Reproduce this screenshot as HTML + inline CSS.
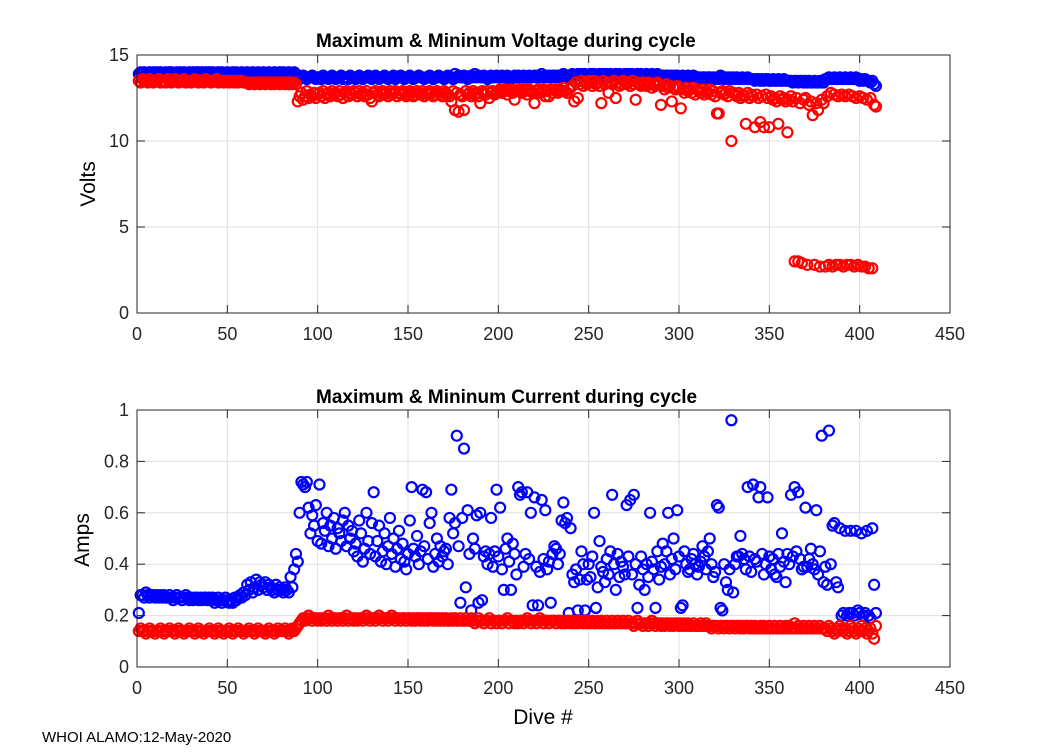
<!DOCTYPE html>
<html><head><meta charset="utf-8"><style>
body{margin:0;background:#fff;width:1050px;height:750px;overflow:hidden;font-family:"Liberation Sans",Arial,sans-serif}
svg text{font-family:"Liberation Sans",Arial,sans-serif}
</style></head><body>
<svg id="fig" width="1050" height="750" xmlns="http://www.w3.org/2000/svg">
<rect width="1050" height="750" fill="#fff"/>
<g id="top"></g>
<g id="bot"></g>
<text x="316" y="47" font-size="19" font-weight="bold">Maximum &amp; Mininum Voltage during cycle</text>
<text x="316" y="403" font-size="19" font-weight="bold">Maximum &amp; Mininum Current during cycle</text>
<text transform="translate(95,184) rotate(-90)" text-anchor="middle" font-size="21">Volts</text>
<text transform="translate(89,540) rotate(-90)" text-anchor="middle" font-size="21">Amps</text>
<text x="543" y="724" text-anchor="middle" font-size="21">Dive #</text>
<text x="42" y="742" font-size="15">WHOI ALAMO:12-May-2020</text>
</svg>
<script>
const xTicks=[0,50,100,150,200,250,300,350,400,450];
const vTicks=[0,5,10,15];
const aTicks=[0,0.2,0.4,0.6,0.8,1];
const aTickLabels=["0","0.2","0.4","0.6","0.8","1"];
const vMax=[
13.9,14.0,13.9,14.0,13.9,13.9,14.0,13.9,14.0,13.9,
14.0,13.9,14.0,13.9,13.9,14.0,13.9,14.0,14.0,13.9,
13.9,14.0,13.9,14.0,13.9,14.0,13.9,13.9,14.0,13.9,
14.0,13.9,14.0,14.0,13.9,14.0,13.9,14.0,13.9,14.0,
13.9,14.0,13.9,13.9,14.0,13.9,14.0,13.9,13.9,14.0,
13.9,13.9,14.0,13.9,14.0,13.9,13.9,14.0,13.9,13.9,
14.0,13.9,13.9,14.0,13.9,13.9,14.0,13.9,13.9,14.0,
13.9,13.9,14.0,13.9,13.9,14.0,13.9,13.9,14.0,13.9,
14.0,13.9,13.9,14.0,13.9,13.9,14.0,13.9,13.7,13.6,
13.7,13.8,13.7,13.6,13.7,13.7,13.8,13.7,13.6,13.7,
13.7,13.6,13.8,13.7,13.7,13.6,13.7,13.8,13.7,13.6,
13.7,13.7,13.8,13.6,13.7,13.7,13.6,13.8,13.7,13.7,
13.6,13.7,13.8,13.7,13.6,13.7,13.7,13.8,13.7,13.6,
13.7,13.8,13.7,13.6,13.7,13.7,13.8,13.7,13.6,13.7,
13.7,13.8,13.6,13.7,13.7,13.8,13.7,13.6,13.7,13.7,
13.8,13.7,13.6,13.7,13.7,13.8,13.7,13.7,13.6,13.7,
13.7,13.8,13.7,13.6,13.7,13.7,13.8,13.7,13.7,13.6,
13.7,13.8,13.7,13.7,13.6,13.9,13.7,13.8,13.7,13.7,
13.8,13.7,13.6,13.7,13.8,13.7,13.9,13.7,13.8,13.7,
13.7,13.8,13.7,13.6,13.7,13.8,13.7,13.7,13.8,13.7,
13.7,13.8,13.7,13.7,13.8,13.7,13.6,13.7,13.8,13.7,
13.8,13.7,13.7,13.8,13.7,13.7,13.8,13.7,13.7,13.8,
13.7,13.8,13.7,13.9,13.7,13.8,13.7,13.8,13.7,13.8,
13.8,13.7,13.8,13.7,13.8,13.9,13.8,13.7,13.8,13.8,
13.9,13.8,13.8,13.9,13.8,13.9,13.8,13.9,13.8,13.8,
13.9,13.8,13.9,13.8,13.8,13.9,13.8,13.9,13.8,13.9,
13.8,13.9,13.8,13.8,13.9,13.8,13.9,13.8,13.8,13.9,
13.8,13.9,13.8,13.9,13.8,13.8,13.9,13.8,13.9,13.8,
13.8,13.9,13.8,13.8,13.9,13.8,13.8,13.9,13.8,13.8,
13.8,13.7,13.8,13.8,13.7,13.8,13.7,13.8,13.8,13.7,
13.7,13.8,13.7,13.7,13.8,13.7,13.7,13.8,13.7,13.7,
13.7,13.6,13.7,13.7,13.6,13.7,13.7,13.6,13.7,13.6,
13.7,13.6,13.8,13.7,13.6,13.7,13.6,13.7,13.6,13.7,
13.6,13.7,13.6,13.6,13.7,13.6,13.6,13.7,13.6,13.6,
13.6,13.5,13.6,13.6,13.5,13.6,13.5,13.6,13.6,13.5,
13.5,13.6,13.5,13.5,13.6,13.5,13.5,13.6,13.5,13.5,
13.5,13.5,13.4,13.5,13.5,13.4,13.5,13.5,13.4,13.5,
13.4,13.5,13.4,13.4,13.5,13.4,13.4,13.5,13.4,13.4,
13.6,13.6,13.7,13.6,13.6,13.7,13.6,13.6,13.7,13.6,
13.6,13.7,13.6,13.6,13.7,13.6,13.6,13.7,13.6,13.5,
13.6,13.5,13.6,13.5,13.5,13.4,13.5,13.3,13.2];
const vMin=[
13.5,13.4,13.6,13.5,13.5,13.4,13.6,13.5,13.4,13.5,
13.5,13.6,13.4,13.5,13.5,13.4,13.6,13.5,13.4,13.5,
13.6,13.5,13.4,13.5,13.5,13.6,13.4,13.5,13.5,13.4,
13.5,13.6,13.5,13.4,13.5,13.5,13.4,13.6,13.5,13.5,
13.4,13.5,13.5,13.6,13.4,13.5,13.5,13.4,13.5,13.5,
13.4,13.5,13.5,13.4,13.5,13.4,13.5,13.5,13.4,13.4,
13.4,13.3,13.4,13.4,13.3,13.4,13.4,13.3,13.4,13.4,
13.3,13.4,13.4,13.3,13.4,13.3,13.4,13.4,13.3,13.4,
13.4,13.3,13.4,13.3,13.4,13.3,13.4,13.3,12.3,12.6,
12.8,12.4,12.6,12.9,12.5,12.7,12.6,12.8,12.5,12.7,
12.8,12.6,12.9,12.5,12.7,12.8,12.6,12.9,12.7,12.8,
12.6,12.9,12.7,12.5,12.8,12.9,12.6,12.8,12.7,12.9,
12.8,12.6,12.9,12.7,12.8,12.6,12.9,12.7,12.5,12.3,
12.8,12.9,12.7,12.6,12.8,12.9,12.7,12.8,12.6,12.9,
12.7,12.8,12.9,12.6,12.8,12.7,12.9,12.8,12.6,12.7,
12.9,12.8,12.6,12.7,12.9,12.8,12.7,12.9,12.6,12.8,
12.7,12.9,12.8,12.6,12.7,12.9,12.8,12.7,12.6,12.9,
12.8,12.7,12.6,12.3,12.9,11.8,12.8,11.7,12.7,12.6,
11.8,12.9,12.7,12.8,12.6,12.9,12.7,12.8,12.6,12.2,
12.9,12.8,12.7,12.9,12.5,12.8,12.9,12.7,12.8,12.9,
13.0,12.8,12.9,13.0,12.7,12.9,13.0,12.8,12.4,12.9,
13.0,12.9,12.8,13.0,12.9,12.7,13.0,12.9,12.8,12.2,
12.9,13.0,12.8,12.9,13.0,12.6,12.9,12.6,13.0,12.8,
13.0,12.9,12.8,13.0,12.9,13.1,12.9,12.8,13.0,13.1,
13.2,12.3,13.4,12.5,13.3,13.5,13.2,13.4,13.3,13.5,
13.4,13.2,13.5,13.3,13.4,13.2,12.2,13.5,13.3,13.4,
12.8,13.4,13.3,13.5,12.5,13.4,13.2,13.3,13.5,13.4,
13.3,13.4,13.2,13.5,13.3,12.4,13.4,13.3,13.2,13.4,
13.3,13.2,13.4,13.3,13.1,13.3,13.2,13.4,13.3,12.1,
13.2,13.0,13.3,13.1,13.2,12.3,13.1,13.0,13.2,13.1,
11.9,13.0,12.8,13.1,12.9,13.0,12.8,13.1,12.7,13.0,
12.9,12.8,13.0,12.7,12.9,12.8,13.0,12.7,12.9,12.6,
11.6,11.6,12.8,12.9,12.7,12.8,12.6,12.9,10.0,12.8,
12.7,12.6,12.8,12.5,12.7,12.6,11.0,12.8,12.5,12.7,
12.6,10.8,12.7,12.5,11.1,12.6,10.8,12.7,12.5,10.8,
12.6,12.4,12.5,12.3,11.0,12.6,12.4,12.5,12.3,10.5,
12.4,12.6,12.3,3.0,12.5,3.0,12.2,2.9,12.4,12.5,
2.8,12.1,12.3,11.5,2.8,12.2,11.8,2.7,12.4,12.2,
2.7,12.6,2.8,12.8,2.7,12.7,2.8,12.6,2.8,12.7,
2.7,12.6,2.8,12.7,2.8,12.6,2.7,12.5,2.8,12.6,
2.7,12.5,2.7,12.4,2.6,12.5,2.6,12.1,12.0];
const aMax=[
.21,.28,.28,.27,.29,.28,.27,.28,.28,.27,
.28,.27,.28,.27,.28,.27,.27,.28,.27,.26,
.27,.28,.27,.27,.26,.27,.28,.27,.26,.27,
.26,.27,.27,.26,.27,.26,.27,.27,.26,.27,
.26,.27,.25,.26,.27,.26,.25,.26,.27,.26,
.25,.26,.25,.27,.26,.27,.28,.27,.29,.28,
.32,.30,.33,.29,.31,.34,.30,.33,.32,.31,
.33,.30,.32,.31,.30,.29,.32,.30,.31,.30,
.29,.31,.30,.29,.35,.31,.38,.44,.41,.60,
.72,.71,.70,.72,.62,.52,.59,.55,.63,.49,
.71,.48,.56,.53,.60,.47,.55,.50,.58,.46,
.54,.52,.49,.57,.60,.47,.55,.50,.53,.45,
.48,.43,.57,.52,.41,.46,.60,.49,.44,.56,
.68,.43,.49,.55,.41,.45,.52,.40,.47,.58,
.44,.50,.39,.46,.53,.42,.48,.41,.38,.44,
.57,.70,.46,.43,.51,.40,.45,.69,.47,.68,
.42,.56,.60,.39,.44,.50,.41,.47,.43,.45,
.46,.40,.58,.69,.52,.56,.90,.47,.25,.58,
.85,.31,.61,.44,.22,.50,.46,.59,.25,.60,
.26,.43,.45,.40,.44,.58,.39,.45,.69,.43,
.62,.38,.30,.46,.50,.41,.30,.48,.44,.36,
.70,.67,.68,.39,.44,.68,.42,.60,.24,.66,
.39,.24,.37,.65,.42,.61,.38,.41,.25,.44,
.47,.46,.40,.44,.57,.64,.56,.58,.21,.54,
.36,.33,.38,.22,.34,.45,.40,.22,.34,.40,
.35,.43,.60,.23,.31,.49,.39,.37,.33,.42,
.36,.45,.67,.40,.30,.44,.35,.41,.39,.36,
.63,.43,.65,.36,.67,.40,.23,.32,.43,.38,
.30,.40,.35,.60,.41,.38,.23,.45,.34,.39,
.48,.40,.45,.60,.36,.42,.50,.38,.61,.43,
.23,.24,.45,.40,.37,.38,.42,.44,.40,.36,
.39,.41,.47,.43,.38,.45,.50,.40,.35,.37,
.63,.62,.23,.22,.40,.33,.30,.38,.96,.29,
.40,.43,.43,.51,.44,.42,.38,.70,.43,.37,
.71,.42,.41,.66,.70,.44,.36,.40,.66,.43,
.38,.42,.36,.35,.44,.39,.52,.41,.33,.44,
.40,.67,.43,.70,.45,.68,.42,.38,.39,.62,
.39,.42,.46,.40,.38,.61,.36,.45,.90,.33,
.39,.32,.92,.40,.55,.56,.33,.31,.54,.20,
.21,.53,.20,.21,.53,.21,.20,.53,.22,.21,
.52,.20,.21,.53,.20,.19,.54,.32,.21];
const aMin=[
.14,.15,.14,.14,.13,.14,.15,.14,.14,.13,
.14,.14,.15,.14,.13,.14,.14,.15,.14,.14,
.13,.14,.15,.14,.14,.13,.14,.14,.15,.14,
.14,.13,.14,.15,.14,.14,.13,.14,.14,.15,
.14,.14,.13,.14,.15,.14,.14,.13,.14,.14,
.15,.14,.13,.14,.14,.15,.14,.14,.13,.14,
.14,.15,.14,.14,.13,.14,.15,.14,.14,.14,
.13,.14,.15,.14,.14,.13,.14,.15,.14,.14,
.14,.15,.14,.13,.14,.15,.14,.15,.16,.17,
.18,.19,.18,.19,.20,.19,.18,.19,.19,.18,
.19,.18,.19,.19,.18,.20,.19,.18,.19,.19,
.18,.19,.19,.18,.19,.20,.18,.19,.19,.18,
.19,.18,.19,.19,.18,.19,.20,.19,.18,.19,
.19,.18,.19,.20,.19,.18,.19,.19,.18,.19,
.20,.19,.18,.19,.19,.18,.19,.19,.18,.19,
.19,.18,.19,.18,.19,.19,.18,.19,.18,.19,
.18,.19,.19,.18,.19,.18,.19,.18,.19,.18,
.19,.18,.18,.19,.18,.19,.18,.18,.19,.18,
.18,.19,.18,.18,.19,.18,.17,.18,.19,.18,
.18,.17,.18,.18,.19,.17,.18,.18,.17,.18,
.18,.17,.18,.18,.19,.17,.18,.18,.17,.18,
.17,.18,.18,.17,.18,.19,.18,.17,.18,.18,
.17,.18,.19,.18,.17,.18,.18,.17,.18,.18,
.18,.17,.18,.18,.17,.18,.17,.18,.18,.17,
.18,.17,.18,.17,.18,.18,.17,.18,.17,.18,
.17,.18,.17,.17,.18,.17,.18,.17,.17,.18,
.17,.17,.18,.17,.17,.18,.17,.17,.18,.17,
.17,.18,.17,.17,.16,.17,.18,.17,.17,.16,
.17,.17,.16,.17,.18,.17,.16,.17,.17,.16,
.17,.16,.17,.17,.16,.17,.16,.17,.17,.16,
.17,.16,.17,.16,.17,.16,.16,.17,.16,.16,
.16,.17,.16,.16,.17,.16,.16,.15,.16,.16,
.16,.15,.16,.16,.15,.16,.16,.15,.16,.16,
.15,.16,.16,.15,.16,.15,.16,.16,.15,.16,
.15,.16,.15,.15,.16,.15,.16,.15,.15,.16,
.15,.15,.16,.15,.15,.16,.15,.15,.16,.15,
.16,.15,.15,.17,.15,.16,.15,.15,.16,.15,
.15,.16,.15,.15,.16,.15,.15,.16,.15,.15,
.15,.14,.16,.15,.14,.13,.15,.14,.16,.15,
.14,.15,.13,.14,.16,.15,.14,.13,.15,.14,
.16,.14,.15,.13,.14,.15,.13,.11,.16];

const NS="http://www.w3.org/2000/svg";
const X0=137,X1=950;
function xs(d){return X0+d*(X1-X0)/450;}
function mk(parent,tag,attrs){const e=document.createElementNS(NS,tag);for(const k in attrs)e.setAttribute(k,attrs[k]);parent.appendChild(e);return e;}

function panel(g,top,bottom,ymax,ticks,labels,series,prefix){
  const ys=v=>bottom-v*(bottom-top)/ymax;
  const bg=mk(g,'rect',{x:X0,y:top,width:X1-X0,height:bottom-top,fill:'#fff'});
  
  
  xTicks.forEach(t=>{
    const x=xs(t);
    const l=mk(g,'line',{x1:x,y1:top,x2:x,y2:bottom,stroke:'#dfdfdf','stroke-width':1});
    
    
    mk(g,'line',{x1:x,y1:bottom,x2:x,y2:bottom-8,stroke:'#262626','stroke-width':1});
    mk(g,'line',{x1:x,y1:top,x2:x,y2:top+8,stroke:'#262626','stroke-width':1});
    const tx=mk(g,'text',{x:x,y:bottom+27,'text-anchor':'middle','font-size':18,fill:'#262626'});
    tx.textContent=t;
    
    
  });
  ticks.forEach((t,i)=>{
    const y=ys(t);
    const l=mk(g,'line',{x1:X0,y1:y,x2:X1,y2:y,stroke:'#dfdfdf','stroke-width':1});
    
    
    mk(g,'line',{x1:X0,y1:y,x2:X0+8,y2:y,stroke:'#262626','stroke-width':1});
    mk(g,'line',{x1:X1,y1:y,x2:X1-8,y2:y,stroke:'#262626','stroke-width':1});
    const tx=mk(g,'text',{x:X0-8,y:y+6,'text-anchor':'end','font-size':18,fill:'#262626'});
    tx.textContent=labels[i];
    
    
  });
  series.forEach(s=>{
    s.vals.forEach((v,i)=>{
      const c=mk(g,'circle',{cx:xs(i+1),cy:ys(v),r:5,fill:'none',stroke:s.color,'stroke-width':2.2});
      
      
    });
  });
  const box=mk(g,'rect',{x:X0,y:top,width:X1-X0,height:bottom-top,fill:'none',stroke:'#262626','stroke-width':1});
  
  
}
panel(document.getElementById('top'),55,313,15,vTicks,vTicks.map(String),
  [{vals:vMax,color:'#0000ff',name:'max-voltage-point'},{vals:vMin,color:'#ff0000',name:'min-voltage-point'}],'voltage');
panel(document.getElementById('bot'),410,667,1,aTicks,aTickLabels,
  [{vals:aMax,color:'#0000ff',name:'max-current-point'},{vals:aMin,color:'#ff0000',name:'min-current-point'}],'current');
</script>
</body></html>
